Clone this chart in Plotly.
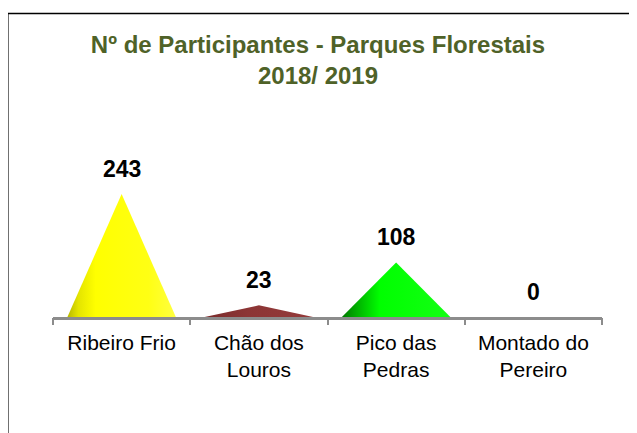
import plotly.graph_objects as go

# ---- data ----
categories = ["Ribeiro Frio", "Chão dos<br>Louros", "Pico das<br>Pedras", "Montado do<br>Pereiro"]
participants = [243, 23, 108, 0]
title_text = "Nº de Participantes - Parques Florestais<br>2018/ 2019"
boundary_ticks = [-0.5, 0.5, 1.5, 2.5, 3.5]

# ---- styles ----
OFF = 8                      # page body margin
W, H = 637 - OFF, 433 - OFF  # figure fits inside the window
ML, MR, MT, MB = 45, 35, 132, 116
FONT = "Arial, Liberation Sans, sans-serif"
AXIS_GRAY = "#8c8c8c"
HALF_W = 0.395
fill_scales = [
    [[0, "#b8b800"], [0.1, "#e4e400"], [0.26, "#ffff00"], [0.75, "#ffff14"], [1, "#ffff40"]],
    [[0, "#7a2a2a"], [0.4, "#8c3535"], [1, "#943a3a"]],
    [[0, "#007800"], [0.15, "#00b400"], [0.35, "#00ff00"], [1, "#14ff14"]],
    [[0, "#999999"], [1, "#bbbbbb"]],
]

fig = go.Figure()

for i, (cat, v) in enumerate(zip(categories, participants)):
    xs = [i - HALF_W, i, i + HALF_W, i - HALF_W]
    ys = [0, v, 0, 0]
    fig.add_trace(go.Scatter(
        x=xs, y=ys, mode="lines", fill="toself",
        line=dict(width=0, color="rgba(0,0,0,0)"),
        fillgradient=dict(type="horizontal", colorscale=fill_scales[i]),
        hoverinfo="skip", showlegend=False,
    ))
    fig.add_annotation(
        x=i, y=v, text=f"<b>{v}</b>", showarrow=False,
        yshift=25, yanchor="middle",
        font=dict(family=FONT, size=23, color="#000000"),
    )

# invisible trace to anchor the boundary-tick axis
fig.add_trace(go.Scatter(x=boundary_ticks, y=[0] * len(boundary_ticks), xaxis="x2",
                         mode="markers", marker=dict(opacity=0), hoverinfo="skip",
                         showlegend=False))

fig.update_layout(
    width=W, height=H,
    margin=dict(l=ML, r=MR, t=MT, b=MB),
    paper_bgcolor="white", plot_bgcolor="white",
    title=dict(
        text=title_text, x=310 / W, xref="container", xanchor="center",
        yref="container", y=1 - 45 / H, yanchor="top",
        font=dict(family=FONT, size=24, color="#4f6228", weight="bold"),
    ),
    xaxis=dict(
        range=[-0.5, 3.5], tickmode="array", tickvals=list(range(len(categories))),
        ticktext=categories, ticks="", showline=True, linecolor=AXIS_GRAY, linewidth=2.5,
        showgrid=False, zeroline=False, fixedrange=True, ticklabelstandoff=5,
        tickfont=dict(family=FONT, size=21, color="#000000"),
    ),
    xaxis2=dict(
        overlaying="x", matches="x", anchor="y", side="bottom",
        range=[-0.5, 3.5], tickmode="array", tickvals=boundary_ticks,
        ticks="outside", ticklen=7, tickwidth=2, tickcolor=AXIS_GRAY,
        showticklabels=False, showline=False, showgrid=False, zeroline=False,
    ),
    yaxis=dict(range=[0, 350], visible=False, fixedrange=True),
)

# chart-area frame (partially cropped in the original)
pw = W - ML - MR
ph = H - MT - MB
def px_x(p):
    return (p - OFF - ML) / pw
def px_y(p):
    return (H - MB - (p - OFF)) / ph

fig.add_shape(type="line", xref="paper", yref="paper",
              x0=px_x(8), x1=px_x(8), y0=px_y(13), y1=px_y(440),
              line=dict(color="#707070", width=2))
fig.add_shape(type="line", xref="paper", yref="paper",
              x0=px_x(7), x1=px_x(645), y0=px_y(13.5), y1=px_y(13.5),
              line=dict(color="#000000", width=1.5))

fig.write_html("out.html")
